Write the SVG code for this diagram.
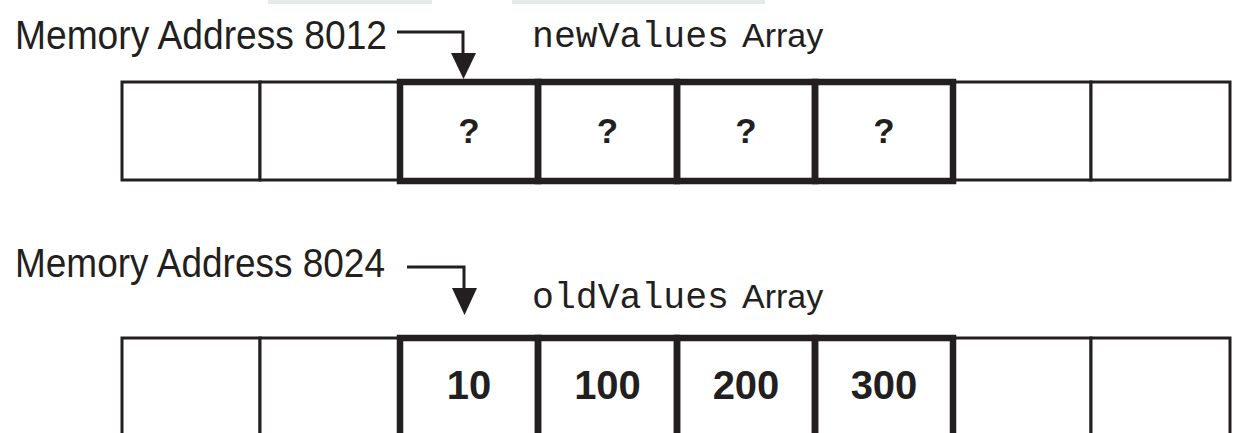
<svg xmlns="http://www.w3.org/2000/svg" width="1235" height="433" viewBox="0 0 1235 433">
<style>
.thin{fill:#fff;stroke:#231f20;stroke-width:3}
.thick{fill:none;stroke:#231f20;stroke-width:6.5}
.lbl{font-family:"Liberation Sans",Arial,sans-serif;font-size:40px;fill:#231f20}
.mono{font-family:"Liberation Mono","DejaVu Sans Mono",monospace;font-size:37px;fill:#231f20}
.arr{font-family:"Liberation Sans",Arial,sans-serif;font-size:34px;fill:#231f20}
.val{font-family:"Liberation Sans",Arial,sans-serif;font-weight:bold;font-size:35px;fill:#231f20;text-anchor:middle}
.num{font-family:"Liberation Sans",Arial,sans-serif;font-weight:bold;font-size:40px;fill:#231f20;text-anchor:middle}
.conn{fill:none;stroke:#231f20;stroke-width:3}
</style>
<rect x="268" y="0" width="164" height="4" fill="#e3ece9"/>
<rect x="512" y="0" width="253" height="4" fill="#e3ece9"/>

<g id="label-8012"><text class="lbl" x="15" y="49" textLength="372" lengthAdjust="spacingAndGlyphs">Memory Address 8012</text></g>
<g id="title-new"><text x="532" y="47"><tspan class="mono" textLength="197" lengthAdjust="spacingAndGlyphs">newValues</tspan><tspan class="arr" x="742">Array</tspan></text></g>

<g id="row-new">
<g id="n0"><rect class="thin" x="122" y="82" width="138" height="98"/></g>
<g id="n1"><rect class="thin" x="260" y="82" width="140" height="98"/></g>
<g id="n6"><rect class="thin" x="953" y="82" width="138" height="98"/></g>
<g id="n7"><rect class="thin" x="1091" y="82" width="139" height="98"/></g>
<g id="n2"><rect class="thick" x="400" y="82" width="138" height="99"/><text class="val" x="469" y="143">?</text></g>
<g id="n3"><rect class="thick" x="538" y="82" width="139" height="99"/><text class="val" x="607.5" y="143">?</text></g>
<g id="n4"><rect class="thick" x="677" y="82" width="138" height="99"/><text class="val" x="746" y="143">?</text></g>
<g id="n5"><rect class="thick" x="815" y="82" width="138" height="99"/><text class="val" x="884" y="143">?</text></g>
</g>

<g id="label-8024"><text class="lbl" x="15" y="277" textLength="370" lengthAdjust="spacingAndGlyphs">Memory Address 8024</text></g>
<g id="title-old"><text x="532" y="308"><tspan class="mono" textLength="197" lengthAdjust="spacingAndGlyphs">oldValues</tspan><tspan class="arr" x="742">Array</tspan></text></g>

<g id="row-old">
<g id="o0"><rect class="thin" x="122" y="338" width="138" height="98"/></g>
<g id="o1"><rect class="thin" x="260" y="338" width="140" height="98"/></g>
<g id="o6"><rect class="thin" x="953" y="338" width="138" height="98"/></g>
<g id="o7"><rect class="thin" x="1091" y="338" width="139" height="98"/></g>
<g id="o2"><rect class="thick" x="400" y="338" width="138" height="99"/><text class="num" x="469" y="399">10</text></g>
<g id="o3"><rect class="thick" x="538" y="338" width="139" height="99"/><text class="num" x="607.5" y="399">100</text></g>
<g id="o4"><rect class="thick" x="677" y="338" width="138" height="99"/><text class="num" x="746" y="399">200</text></g>
<g id="o5"><rect class="thick" x="815" y="338" width="138" height="99"/><text class="num" x="884" y="399">300</text></g>
</g>

<g id="connectors">
<path class="conn" d="M397,32 H463 V53"/>
<path d="M451,53 H476 L463.5,79 Z" fill="#231f20"/>
<path class="conn" d="M407,267 H464 V288"/>
<path d="M452,288 H477 L464.5,315 Z" fill="#231f20"/>
</g>
</svg>
